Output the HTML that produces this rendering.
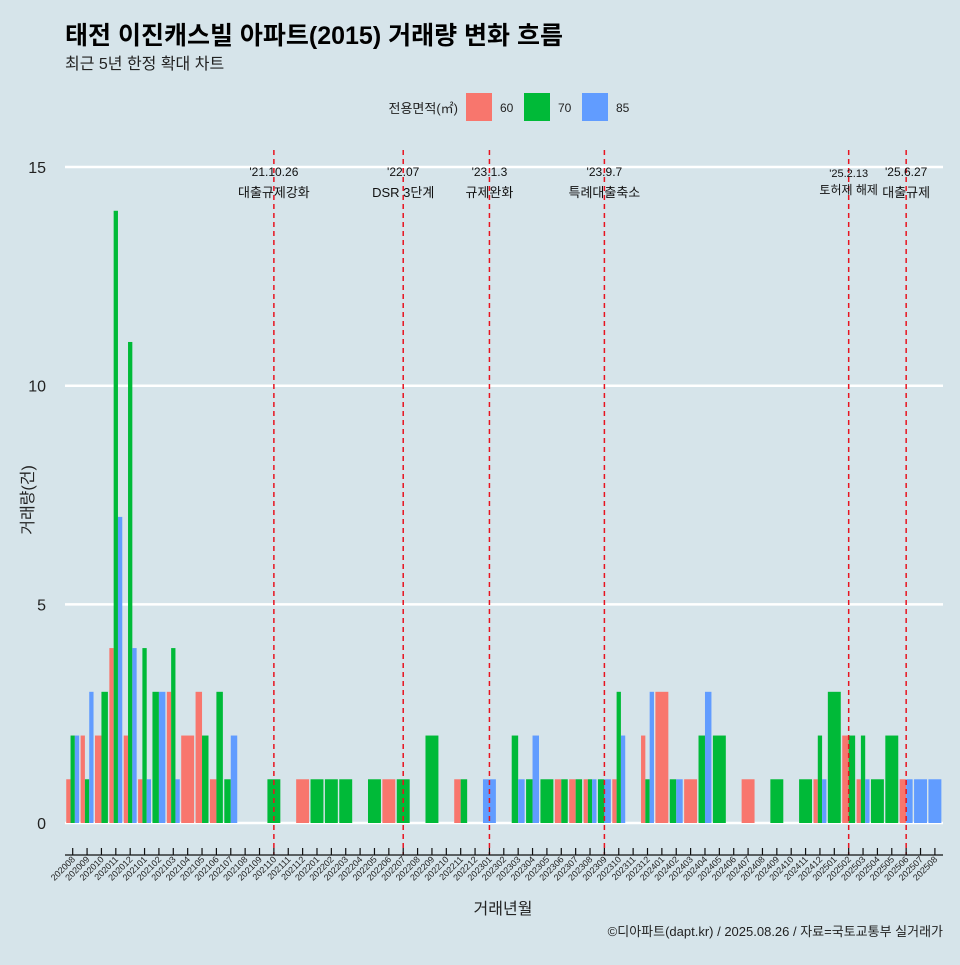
<!DOCTYPE html>
<html><head><meta charset="utf-8">
<style>
body{margin:0;background:#d6e4ea;}
svg text{font-family:"Liberation Sans","Noto Sans CJK KR",sans-serif;}
</style></head>
<body>
<svg id="chart" width="960" height="960" xmlns="http://www.w3.org/2000/svg">
<rect x="0" y="0" width="960" height="960" fill="#d6e4ea"/>
<text x="65" y="44" font-size="25" font-weight="bold" fill="#000">태전 이진캐스빌 아파트(2015) 거래량 변화 흐름</text>
<text x="65" y="69" font-size="16" fill="#222">최근 5년 한정 확대 차트</text>
<g>
<text x="458" y="113" font-size="13" text-anchor="end" fill="#222">전용면적(㎡)</text>
<rect x="466" y="93" width="26" height="28" fill="#F8766D"/>
<text x="500" y="112" font-size="12" fill="#222">60</text>
<rect x="524" y="93" width="26" height="28" fill="#00BA38"/>
<text x="558" y="112" font-size="12" fill="#222">70</text>
<rect x="582" y="93" width="26" height="28" fill="#619CFF"/>
<text x="616" y="112" font-size="12" fill="#222">85</text>
</g>
<g id="grid"></g>
<g id="bars"></g>
<g id="events"></g>
<g id="axes"></g>
<text transform="translate(33,500) rotate(-90)" font-size="16" text-anchor="middle" fill="#222">거래량(건)</text>
<text x="503" y="914" font-size="16" text-anchor="middle" fill="#222">거래년월</text>
<text x="943" y="936" font-size="13" text-anchor="end" fill="#222">©디아파트(dapt.kr) / 2025.08.26 / 자료=국토교통부 실거래가</text>
</svg>
<script>
const months = [];
for (let y = 2020, m = 8; !(y === 2025 && m === 9); ) { months.push(String(y) + String(m).padStart(2,'0')); m++; if (m > 12) { m = 1; y++; } }
const types = ['60','70','85'];
const typeColors = ['#F8766D','#00BA38','#619CFF'];
const trades60 = {'202008':1,'202009':2,'202010':2,'202011':4,'202012':2,'202101':1,'202103':3,'202104':2,'202105':3,'202106':1,'202112':1,'202206':1,'202211':1,'202306':1,'202307':1,'202308':1,'202310':1,'202312':2,'202401':3,'202403':1,'202407':1,'202412':1,'202502':2,'202503':1,'202506':1};
const trades70 = {'202008':2,'202009':1,'202010':3,'202011':14,'202012':11,'202101':4,'202102':3,'202103':4,'202105':2,'202106':3,'202107':1,'202110':1,'202201':1,'202202':1,'202203':1,'202205':1,'202207':1,'202209':2,'202211':1,'202303':2,'202304':1,'202305':1,'202306':1,'202307':1,'202308':1,'202309':1,'202310':3,'202312':1,'202402':1,'202404':2,'202405':2,'202409':1,'202411':1,'202412':2,'202501':3,'202502':2,'202503':2,'202504':1,'202505':2};
const trades85 = {'202008':2,'202009':3,'202011':7,'202012':4,'202101':1,'202102':3,'202103':1,'202107':2,'202301':1,'202303':1,'202304':2,'202308':1,'202309':1,'202310':2,'202312':3,'202402':1,'202404':3,'202412':1,'202503':1,'202506':1,'202507':1,'202508':1};
const yTicks = [0,5,10,15];
const eventMonths = ['202110','202207','202301','202309','202502','202506'];
const eventDates = ["'21.10.26","'22.07","'23.1.3","'23.9.7","'25.2.13","'25.6.27"];
const eventLabels = ['대출규제강화','DSR 3단계','규제완화','특례대출축소','토허제 해제','대출규제'];

const NS = 'http://www.w3.org/2000/svg';
const x0 = 72.7, step = 14.37, y0 = 823, yUnit = 43.73;
const xScale = i => x0 + step * i;
const yScale = v => y0 - v * yUnit;
function mk(tag, attrs, parent) { const e = document.createElementNS(NS, tag); for (const k in attrs) e.setAttribute(k, attrs[k]); parent.appendChild(e); return e; }

const grid = document.getElementById('grid');
yTicks.forEach(t => {
  const l = mk('line', {x1:65, x2:943, y1:yScale(t), y2:yScale(t), stroke:'#fff', 'stroke-width':2.5}, grid);
  
  
  const tx = mk('text', {x:46, y:yScale(t)+6, 'font-size':16, 'text-anchor':'end', fill:'#222'}, grid);
  tx.textContent = t;
  
  
});

const bars = document.getElementById('bars');
const series = [trades60, trades70, trades85];
const bw = step * 0.9;
months.forEach((m, i) => {
  const present = types.map((t, k) => k).filter(k => series[k][m]);
  const n = present.length;
  present.forEach((k, j) => {
    const v = series[k][m];
    const w = bw / n;
    const r = mk('rect', {x: xScale(i) - bw/2 + j*w, y: yScale(v), width: w, height: yScale(0) - yScale(v), fill: typeColors[k]}, bars);
    
    
  });
});

const ev = document.getElementById('events');
eventMonths.forEach((m, k) => {
  const x = xScale(months.indexOf(m));
  const l = mk('line', {x1:x, x2:x, y1:150, y2:855, stroke:'#e8131f', 'stroke-width':1.5, 'stroke-dasharray':'5,4'}, ev);
  
  
  const small = k === 4;
  const t1 = mk('text', {x:x, y: small ? 177 : 176, 'font-size': small ? 11 : 12, 'text-anchor':'middle', fill:'#111'}, ev);
  t1.textContent = eventDates[k];
  
  
  const t2 = mk('text', {x:x, y: small ? 194 : 197, 'font-size': small ? 12 : 13, 'text-anchor':'middle', fill:'#111'}, ev);
  t2.textContent = eventLabels[k];
  
  
});

const ax = document.getElementById('axes');
const al = mk('line', {x1:65, x2:943, y1:855, y2:855, stroke:'#111', 'stroke-width':1.2}, ax);


months.forEach((m, i) => {
  const x = xScale(i);
  const tk = mk('line', {x1:x, x2:x, y1:848, y2:855, stroke:'#111', 'stroke-width':1.2}, ax);
  
  
  const tx = mk('text', {transform:'translate(' + (x+3) + ',860) rotate(-45)', 'font-size':9, 'text-anchor':'end', fill:'#222'}, ax);
  tx.textContent = m;
  
  
});
</script>
</body></html>
